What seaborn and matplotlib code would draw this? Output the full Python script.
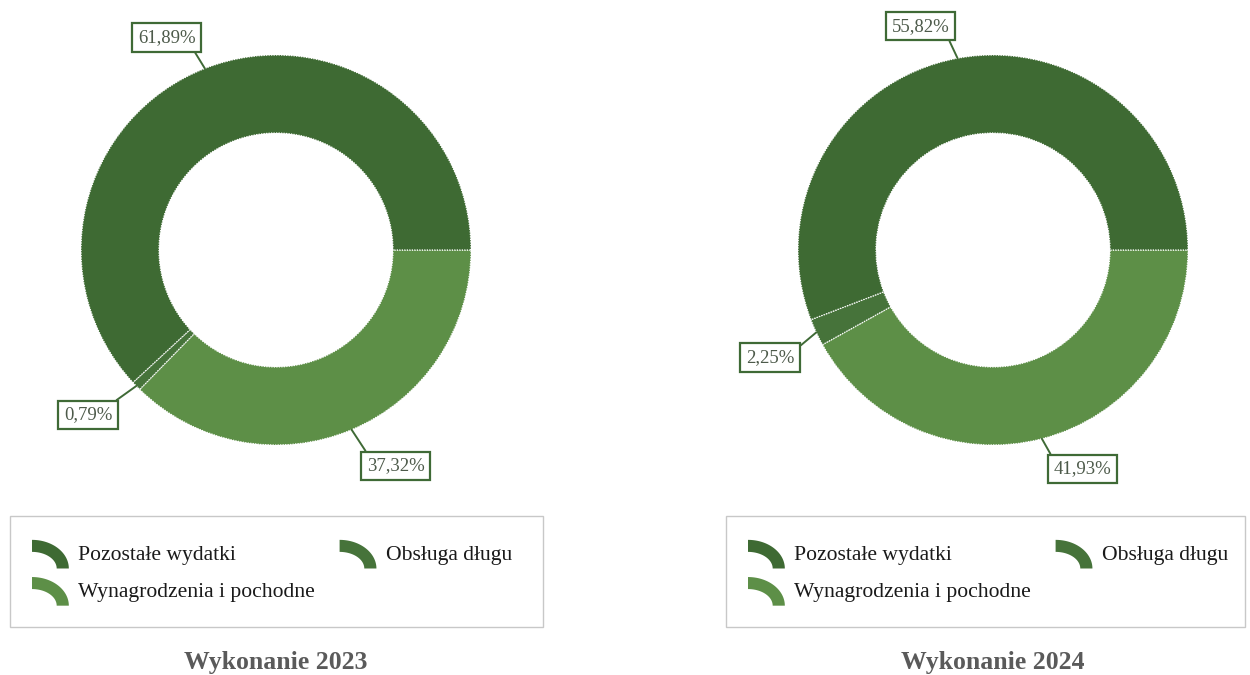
import matplotlib
matplotlib.use("Agg")
import matplotlib.pyplot as plt
import seaborn as sns
import numpy as np
from matplotlib.patches import Wedge, Rectangle, Polygon
from matplotlib.legend_handler import HandlerBase

# Expenditure structure, share of total (%)
categories = ["Wynagrodzenia i pochodne", "Obsługa długu", "Pozostałe wydatki"]
shares_2023 = [37.32, 0.79, 61.89]
shares_2024 = [41.93, 2.25, 55.82]
value_labels_2023 = ["37,32%", "0,79%", "61,89%"]
value_labels_2024 = ["41,93%", "2,25%", "55,82%"]
panel_titles = ["Wykonanie 2023", "Wykonanie 2024"]

sns.set_theme(style="white")
plt.rcParams["font.family"] = ["Liberation Serif", "DejaVu Serif"]

palette = sns.color_palette(["#5d8f47", "#46733a", "#3e6a33"])

W, H = 1250, 675
fig = plt.figure(figsize=(W / 100, H / 100), dpi=100)


class HandlerArc(HandlerBase):
    """Legend key drawn as a quarter of an elliptical ring."""
    def create_artists(self, legend, orig_handle, xdescent, ydescent,
                       width, height, fontsize, trans):
        h = 1.25 * height
        x0, y0 = -xdescent, -ydescent - 0.2 * height
        t = np.linspace(0, np.pi / 2, 40)
        outer = np.column_stack([x0 + width * np.cos(t), y0 + h * np.sin(t)])
        inner = np.column_stack([x0 + 0.67 * width * np.cos(t[::-1]),
                                 y0 + 0.58 * h * np.sin(t[::-1])])
        poly = Polygon(np.vstack([outer, inner]), closed=True,
                       facecolor=orig_handle.get_facecolor(), edgecolor="none",
                       transform=trans)
        return [poly]


def draw_panel(cx, shares, labels, offsets, relpos, title, box_x0, box_x1):
    R = 195.0
    lim = 1.3
    size = 2 * lim * R
    ax = fig.add_axes([(cx - size / 2) / W, (H - 250 - size / 2) / H, size / W, size / H])
    wedges, _ = ax.pie(shares, colors=palette, startangle=0, counterclock=False,
                       radius=1.0,
                       wedgeprops=dict(width=0.4, edgecolor="white", linewidth=0.9,
                                       linestyle=(0, (1, 1))))
    ax.set_xlim(-lim, lim)
    ax.set_ylim(-lim, lim)
    ax.set_aspect("equal")
    ax.axis("off")

    # value labels with leader lines to the outer edge of each segment
    for wdg, lab, off, rp in zip(wedges, labels, offsets, relpos):
        mid = np.deg2rad((wdg.theta1 + wdg.theta2) / 2)
        xy = (np.cos(mid), np.sin(mid))
        ax.annotate(lab, xy=xy, xytext=off, textcoords="offset pixels",
                    ha="center", va="center", fontsize=13.5, color="#4d5a4a",
                    bbox=dict(boxstyle="square,pad=0.3", facecolor="white",
                              edgecolor="#3f6a36", linewidth=1.6),
                    arrowprops=dict(arrowstyle="-", color="#3f6a36", linewidth=1.4,
                                    shrinkA=0, shrinkB=0, relpos=rp))

    # legend frame
    fig.patches.append(Rectangle((box_x0 / W, (H - 627) / H), (box_x1 - box_x0) / W,
                                 111 / H, transform=fig.transFigure, facecolor="none",
                                 edgecolor="#c8c8c8", linewidth=1.0))
    order = [2, 0, 1]
    handles = [wedges[i] for i in order]
    names = [categories[i] for i in order]
    fig.legend(handles, names, loc="upper left",
               bbox_to_anchor=((box_x0 + 22) / W, (H - 541) / H),
               bbox_transform=fig.transFigure, ncol=2, frameon=False,
               fontsize=15.6, handlelength=1.7, handleheight=1.25,
               handletextpad=0.42, columnspacing=1.15, labelspacing=0.62,
               borderpad=0.0, borderaxespad=0.0,
               handler_map={Wedge: HandlerArc()}, labelcolor="#1a1a1a")

    fig.text(cx / W, (H - 662) / H, title, ha="center", va="center",
             fontsize=18.5, fontweight="bold", color="#5a5a5a")


offsets_2023 = [(44, -36), (-48, -29), (-38, 31)]
offsets_2024 = [(41, -30), (-46, -25), (-37, 32)]
relpos_2023 = [(0.05, 1.0), (0.9, 1.0), (0.92, 0.0)]
relpos_2024 = [(0.0, 1.0), (1.0, 0.9), (0.95, 0.0)]

draw_panel(276, shares_2023, value_labels_2023, offsets_2023, relpos_2023,
           panel_titles[0], 10, 543)
draw_panel(993, shares_2024, value_labels_2024, offsets_2024, relpos_2024,
           panel_titles[1], 726, 1245)

fig.savefig("out.png", dpi=100, facecolor="white")
